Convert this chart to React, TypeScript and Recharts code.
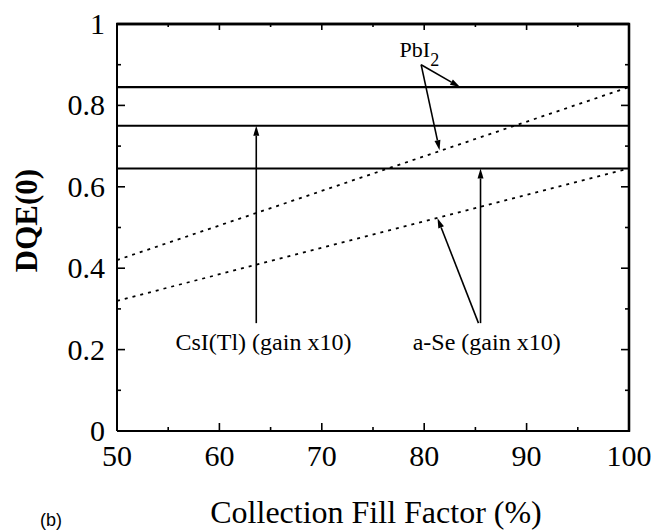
import { LineChart, Line, XAxis, YAxis, ReferenceLine, ReferenceDot, Label } from 'recharts'

const fillFactor = [50, 100]
const pbi2Level = [0.845, 0.845]
const csiLevel = [0.75, 0.75]
const aseLevel = [0.645, 0.645]
const pbi2Dotted = [0.42, 0.845]
const aseDotted = [0.32, 0.645]

const xTicks = [50, 55, 60, 65, 70, 75, 80, 85, 90, 95, 100]
const xLabelled = [50, 60, 70, 80, 90, 100]
const yTicks = [0, 0.1, 0.2, 0.3, 0.4, 0.5, 0.6, 0.7, 0.8, 0.9, 1]
const yLabelled = [0, 0.2, 0.4, 0.6, 0.8, 1]

// frame edges (top and right), in data units
const topEdge = [
  { ff: 50, v: 1 },
  { ff: 100, v: 1 },
]
const rightEdge = [
  { ff: 100, v: 0 },
  { ff: 100, v: 1 },
]

// arrows: tail -> head, in data units
const arrows = [
  { x1: 63.6, y1: 0.265, x2: 63.6, y2: 0.75 },
  { x1: 85.5, y1: 0.265, x2: 85.5, y2: 0.645 },
  { x1: 85.3, y1: 0.265, x2: 81.3, y2: 0.523 },
  { x1: 79.7, y1: 0.9, x2: 83.5, y2: 0.845 },
  { x1: 79.7, y1: 0.9, x2: 81.5, y2: 0.69 },
]

const notes = [
  { x: 64.3, y: 0.2, text: 'CsI(Tl) (gain x10)' },
  { x: 86.1, y: 0.2, text: 'a-Se (gain x10)' },
]
const pbiNote = { x: 77.6, y: 0.92 }

const data = fillFactor.map((ff, i) => ({
  ff,
  pbi2: pbi2Level[i],
  csi: csiLevel[i],
  ase: aseLevel[i],
  pbi2Dot: pbi2Dotted[i],
  aseDot: aseDotted[i],
}))

const W = 657
const H = 531
const M = { top: 24, right: 28, bottom: 0, left: 0 }
const PLOT_TOP = M.top
const PLOT_RIGHT = W - M.right

const serif = '"Liberation Serif", "Times New Roman", serif'

const isMajor = (v: number, list: number[]) => list.some((m) => Math.abs(m - v) < 1e-6)

// bottom ticks, mirrored on the top edge of the frame
function BottomTick(props: any) {
  const { x, y, payload } = props
  const major = isMajor(payload.value, xLabelled)
  return (
    <g>
      <line x1={x} y1={y} x2={x} y2={y - (major ? 8 : 4)} stroke="#000" strokeWidth={1.6} />
      <line x1={x} y1={PLOT_TOP} x2={x} y2={PLOT_TOP + (major ? 6 : 3)} stroke="#000" strokeWidth={1.6} />
      {major && (
        <text x={x} y={y + 35} textAnchor="middle" fontFamily={serif} fontSize={30} fill="#000">
          {payload.value}
        </text>
      )}
    </g>
  )
}

// left ticks, mirrored on the right edge of the frame
function LeftTick(props: any) {
  const { x, y, payload } = props
  const major = isMajor(payload.value, yLabelled)
  return (
    <g>
      <line x1={x} y1={y} x2={x + (major ? 8 : 4)} y2={y} stroke="#000" strokeWidth={1.6} />
      <line x1={PLOT_RIGHT} y1={y} x2={PLOT_RIGHT - (major ? 8 : 4)} y2={y} stroke="#000" strokeWidth={1.6} />
      {major && (
        <text x={x - 12} y={y + 10} textAnchor="end" fontFamily={serif} fontSize={30} fill="#000">
          {String(payload.value)}
        </text>
      )}
    </g>
  )
}

function Arrow(props: any) {
  const { x1, y1, x2, y2 } = props
  const dx = x2 - x1
  const dy = y2 - y1
  const len = Math.sqrt(dx * dx + dy * dy) || 1
  const ux = dx / len
  const uy = dy / len
  const hl = 10
  const hw = 3
  const bx = x2 - ux * hl
  const by = y2 - uy * hl
  const pts = `${x2},${y2} ${bx - uy * hw},${by + ux * hw} ${bx + uy * hw},${by - ux * hw}`
  return (
    <g>
      <line x1={x1} y1={y1} x2={bx} y2={by} stroke="#000" strokeWidth={1.6} />
      <polygon points={pts} fill="#000" />
    </g>
  )
}

export default function App() {
  return (
    <div style={{ position: 'absolute', left: 0, top: 0, background: '#fff' }}>
      <LineChart width={W} height={H} data={data} margin={M}>
        <XAxis
          dataKey="ff"
          type="number"
          domain={[50, 100]}
          ticks={xTicks}
          interval={0}
          tickSize={0}
          tickMargin={0}
          tickLine={false}
          tick={<BottomTick />}
          height={100}
          axisLine={{ stroke: '#000', strokeWidth: 2 }}
          allowDuplicatedCategory
        >
          <Label
            content={({ viewBox }: any) => (
              <path
                d={`M${viewBox.x - 1},${PLOT_TOP}H${viewBox.x + viewBox.width}V${viewBox.y + 1}`}
                fill="none"
                stroke="#000"
                strokeWidth={2.4}
              />
            )}
          />
          <Label
            content={({ viewBox }: any) => (
              <text
                x={viewBox.x + viewBox.width / 2 + 3}
                y={viewBox.y + 92}
                textAnchor="middle"
                fontFamily={serif}
                fontSize={32}
                fill="#000"
              >
                Collection Fill Factor (%)
              </text>
            )}
          />
          <Label
            content={({ viewBox }: any) => (
              <text x={viewBox.x - 77} y={viewBox.y + 95} fontFamily='"Liberation Sans", Arial, sans-serif' fontSize={18} fill="#000">
                (b)
              </text>
            )}
          />
        </XAxis>
        <YAxis
          type="number"
          domain={[0, 1]}
          ticks={yTicks}
          interval={0}
          tickSize={0}
          tickMargin={0}
          tickLine={false}
          tick={<LeftTick />}
          width={117}
          axisLine={{ stroke: '#000', strokeWidth: 2 }}
        >
          <Label
            content={({ viewBox }: any) => {
              const cx = viewBox.x + 37
              const cy = viewBox.y + viewBox.height / 2 - 7
              return (
                <text
                  x={cx}
                  y={cy}
                  transform={`rotate(-90 ${cx} ${cy})`}
                  textAnchor="middle"
                  fontFamily={serif}
                  fontWeight="bold"
                  fontSize={31}
                  fill="#000"
                >
                  DQE(0)
                </text>
              )
            }}
          />
        </YAxis>

        {/* frame edges drawn as plain series */}
        <Line data={topEdge} dataKey="v" stroke="#000" strokeWidth={2.6} dot={false} isAnimationActive={false} />
        <Line data={rightEdge} dataKey="v" stroke="#000" strokeWidth={2.2} dot={false} isAnimationActive={false} />

        <Line dataKey="pbi2" stroke="#000" strokeWidth={2.2} dot={false} isAnimationActive={false} />
        <Line dataKey="csi" stroke="#000" strokeWidth={2.2} dot={false} isAnimationActive={false} />
        <Line dataKey="ase" stroke="#000" strokeWidth={2.2} dot={false} isAnimationActive={false} />
        <Line dataKey="pbi2Dot" stroke="#000" strokeWidth={1.8} strokeDasharray="3 5" dot={false} isAnimationActive={false} />
        <Line dataKey="aseDot" stroke="#000" strokeWidth={1.8} strokeDasharray="3 5" dot={false} isAnimationActive={false} />

        {arrows.map((a, i) => (
          <ReferenceLine
            key={i}
            segment={[
              { x: a.x1, y: a.y1 },
              { x: a.x2, y: a.y2 },
            ]}
            stroke="#000"
            shape={(p: any) => <Arrow {...p} />}
          />
        ))}

        {notes.map((n) => (
          <ReferenceDot
            key={n.text}
            x={n.x}
            y={n.y}
            r={0}
            shape={(p: any) => (
              <text x={p.cx} y={p.cy} textAnchor="middle" fontFamily={serif} fontSize={24} fill="#000">
                {n.text}
              </text>
            )}
          />
        ))}
        <ReferenceDot
          x={pbiNote.x}
          y={pbiNote.y}
          r={0}
          shape={(p: any) => (
            <text x={p.cx} y={p.cy} fontFamily={serif} fontSize={22} fill="#000">
              PbI
              <tspan dy={9} fontSize={18}>
                2
              </tspan>
            </text>
          )}
        />
      </LineChart>
    </div>
  )
}
